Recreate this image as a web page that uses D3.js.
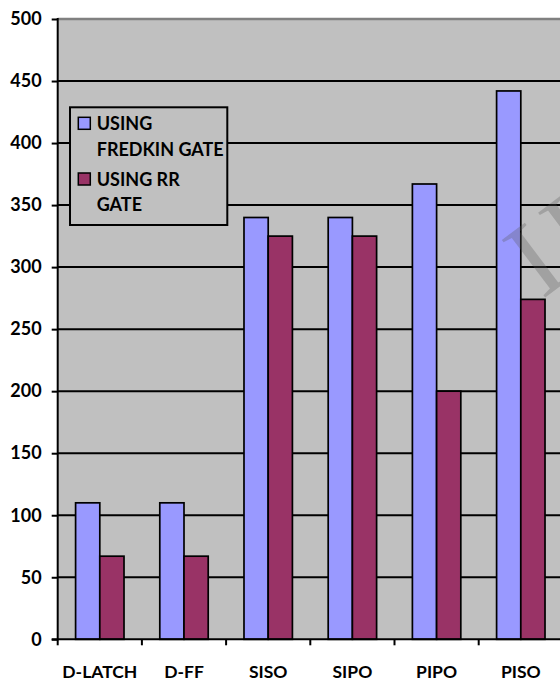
<!DOCTYPE html>
<html><head><meta charset="utf-8">
<script src="https://cdn.jsdelivr.net/npm/d3@7/dist/d3.min.js"></script>
<style>
html,body{margin:0;padding:0;background:#fff;}
svg{display:block;}
text{font-family:Lato,"Liberation Sans",sans-serif;font-weight:bold;fill:#000;}
</style></head>
<body>
<svg id="chart" width="560" height="681"></svg>
<script>
const categories = ["D-LATCH","D-FF","SISO","SIPO","PIPO","PISO"];
const seriesNames = ["USING FREDKIN GATE","USING RR GATE"];
const fredkinValues = [110,110,340,340,367,442];
const rrValues = [67,67,325,325,200,274];
const yTicks = [0,50,100,150,200,250,300,350,400,450,500];
const legendLines = [["USING","FREDKIN GATE"],["USING RR","GATE"]];
const colors = ["#9999FF","#993366"];

const svg = d3.select("#chart");
const pLeft = 57.7, pRight = 562.9, pTop = 19, pBottom = 639.3;

const y = d3.scaleLinear().domain([0,500]).range([pBottom, pTop]);
const x0 = d3.scaleBand().domain(categories).range([pLeft, pRight]).padding(0);
const bw = x0.bandwidth();
const x1 = d3.scaleBand().domain(seriesNames).range([bw*0.2125, bw*0.7875]).padding(0);

// plot area
svg.append("rect").attr("x", pLeft).attr("y", pTop).attr("width", pRight-pLeft).attr("height", pBottom-pTop).attr("fill","#C0C0C0");
svg.append("line").attr("x1", pLeft).attr("x2", pRight).attr("y1", pTop).attr("y2", pTop).attr("stroke","#808080").attr("stroke-width",2.4);

// gridlines
svg.append("g").selectAll("line").data(yTicks.filter(d=>d>0 && d<500)).join("line")
  .attr("x1", pLeft).attr("x2", pRight).attr("y1", d=>y(d)).attr("y2", d=>y(d))
  .attr("stroke","#000").attr("stroke-width",2);

// bars
const data = categories.map((c,i)=>({cat:c, vals:[fredkinValues[i], rrValues[i]]}));
const groups = svg.append("g").selectAll("g").data(data).join("g")
  .attr("transform", d=>`translate(${x0(d.cat)},0)`);
groups.selectAll("rect").data(d=>d.vals.map((v,j)=>({s:seriesNames[j], v, j}))).join("rect")
  .attr("x", d=>x1(d.s)).attr("width", x1.bandwidth())
  .attr("y", d=>y(d.v)).attr("height", d=>y(0)-y(d.v))
  .attr("fill", d=>colors[d.j]).attr("stroke","#000").attr("stroke-width",1.7);

// watermark (page stamp, mostly outside the picture as in the reference)
svg.append("text").text("IJERT")
  .attr("transform","translate(542,300) rotate(-37)")
  .style("font-family","'Liberation Serif',serif").style("font-weight","normal")
  .style("font-size","110px").style("fill","#5a5a5a").style("fill-opacity",0.3);

// y axis
const yAxis = d3.axisLeft(y).tickValues(yTicks).tickSize(6).tickPadding(10);
const gy = svg.append("g").attr("transform",`translate(${pLeft},0)`).call(yAxis);
gy.select(".domain").remove();
gy.selectAll(".tick line").attr("stroke","#000").attr("stroke-width",2);
gy.selectAll(".tick text").style("font-family","Lato,'Liberation Sans',sans-serif").style("font-weight","bold").style("font-size","18px").attr("fill","#000").attr("x",-16);
svg.append("line").attr("x1",pLeft).attr("x2",pLeft).attr("y1",pTop-1).attr("y2",pBottom+1).attr("stroke","#000").attr("stroke-width",2);

// x axis
svg.append("line").attr("x1",pLeft-6).attr("x2",pRight).attr("y1",pBottom).attr("y2",pBottom).attr("stroke","#000").attr("stroke-width",2);
svg.append("g").selectAll("line").data(categories).join("line")
  .attr("x1", d=>x0(d)).attr("x2", d=>x0(d)).attr("y1", pBottom).attr("y2", pBottom+6)
  .attr("stroke","#000").attr("stroke-width",2);
svg.append("g").selectAll("text").data(categories).join("text")
  .attr("x", d=>x0(d)+bw/2).attr("y", 677.5).attr("text-anchor","middle")
  .style("font-size","17.5px").text(d=>d);

// legend
const lg = svg.append("g");
lg.append("rect").attr("x",70).attr("y",107.3).attr("width",157.3).attr("height",117.7)
  .attr("fill","#C0C0C0").attr("stroke","#000").attr("stroke-width",2);
const entryY = [117.3, 173];
const lineBase = [[129.5,155.5],[186,211]];
seriesNames.forEach((s,i)=>{
  lg.append("rect").attr("x",78.3).attr("y",entryY[i]).attr("width",12).attr("height",12)
    .attr("fill",colors[i]).attr("stroke","#000").attr("stroke-width",1.5);
  legendLines[i].forEach((t,k)=>{
    lg.append("text").attr("x",96.7).attr("y",lineBase[i][k]).style("font-size","18px").text(t);
  });
});
</script>
</body></html>
